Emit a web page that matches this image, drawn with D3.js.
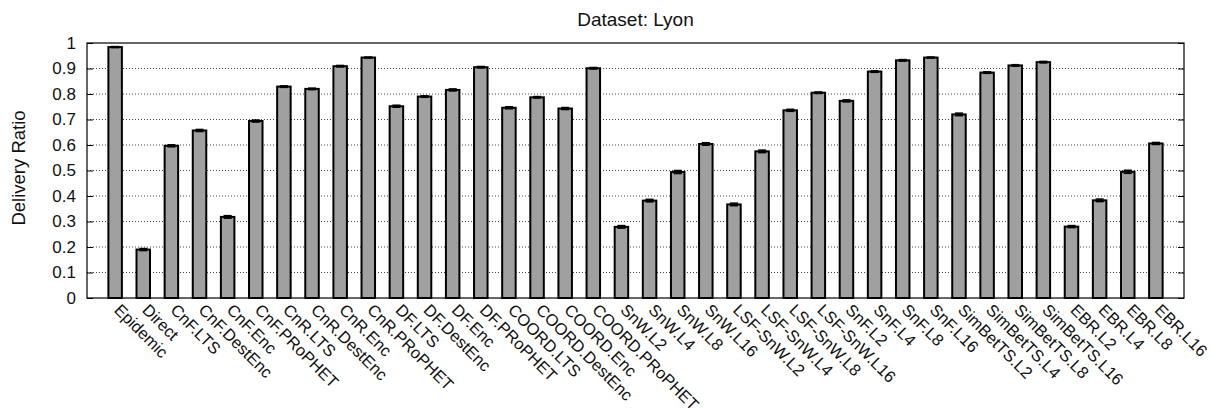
<!DOCTYPE html>
<html>
<head>
<meta charset="utf-8">
<script src="https://cdn.jsdelivr.net/npm/d3@7/dist/d3.min.js"></script>
<style>
  html, body { margin: 0; padding: 0; background: #fff; }
  svg { display: block; font-family: "Liberation Sans", Arial, Helvetica, sans-serif; }
</style>
</head>
<body>
<svg id="chart" width="1213" height="414"></svg>
<script>
// Routing schemes evaluated on the Lyon trace
const categories = [
  "Epidemic", "Direct",
  "CnF.LTS", "CnF.DestEnc", "CnF.Enc", "CnF.PRoPHET",
  "CnR.LTS", "CnR.DestEnc", "CnR.Enc", "CnR.PRoPHET",
  "DF.LTS", "DF.DestEnc", "DF.Enc", "DF.PRoPHET",
  "COORD.LTS", "COORD.DestEnc", "COORD.Enc", "COORD.PRoPHET",
  "SnW.L2", "SnW.L4", "SnW.L8", "SnW.L16",
  "LSF-SnW.L2", "LSF-SnW.L4", "LSF-SnW.L8", "LSF-SnW.L16",
  "SnF.L2", "SnF.L4", "SnF.L8", "SnF.L16",
  "SimBetTS.L2", "SimBetTS.L4", "SimBetTS.L8", "SimBetTS.L16",
  "EBR.L2", "EBR.L4", "EBR.L8", "EBR.L16"
];

// Mean delivery ratio per scheme
const deliveryRatio = [
  0.984, 0.190,
  0.597, 0.657, 0.318, 0.694,
  0.829, 0.820, 0.909, 0.943,
  0.752, 0.790, 0.816, 0.905,
  0.746, 0.787, 0.743, 0.901,
  0.279, 0.382, 0.494, 0.604,
  0.367, 0.575, 0.736, 0.805,
  0.773, 0.888, 0.932, 0.943,
  0.720, 0.884, 0.912, 0.925,
  0.280, 0.383, 0.495, 0.606
];

// Half-width of the confidence interval per scheme
const errors = [
  0.002, 0.004,
  0.004, 0.004, 0.005, 0.004,
  0.003, 0.003, 0.003, 0.002,
  0.004, 0.003, 0.004, 0.003,
  0.004, 0.003, 0.004, 0.003,
  0.005, 0.005, 0.006, 0.005,
  0.005, 0.005, 0.004, 0.003,
  0.004, 0.003, 0.003, 0.002,
  0.005, 0.003, 0.003, 0.003,
  0.004, 0.005, 0.006, 0.004
];

const yTicks = [0, 0.1, 0.2, 0.3, 0.4, 0.5, 0.6, 0.7, 0.8, 0.9, 1];

const svg = d3.select("#chart");
const plot = { left: 87, right: 1184, top: 43, bottom: 298 };

const x = d3.scaleLinear().domain([-1, categories.length]).range([plot.left, plot.right]);
const y = d3.scaleLinear().domain([0, 1]).range([plot.bottom, plot.top]);
const boxWidth = 0.48;
const barW = x(boxWidth) - x(0);

// Title
svg.append("text")
  .attr("x", (plot.left + plot.right) / 2)
  .attr("y", 26)
  .attr("text-anchor", "middle")
  .attr("font-size", 19)
  .attr("fill", "#111")
  .text("Dataset: Lyon");

// Horizontal dotted grid
svg.append("g")
  .selectAll("line")
  .data(yTicks.filter(t => t > 0 && t < 1))
  .join("line")
  .attr("x1", plot.left).attr("x2", plot.right)
  .attr("y1", d => y(d)).attr("y2", d => y(d))
  .attr("stroke", "#444")
  .attr("stroke-width", 1)
  .attr("stroke-dasharray", "1,2");

// Left axis with inward ticks
const yAxis = svg.append("g")
  .attr("transform", `translate(${plot.left},0)`)
  .call(d3.axisLeft(y).tickValues(yTicks).tickFormat(d3.format("~g"))
        .tickSizeInner(-6).tickSizeOuter(0).tickPadding(11));
yAxis.select(".domain").remove();
yAxis.selectAll("line").attr("stroke", "#000").attr("stroke-width", 1);
yAxis.selectAll("text").attr("font-size", 17).attr("fill", "#111")
  .attr("font-family", "Liberation Sans, Arial, sans-serif");

// Mirrored ticks on the right
svg.append("g")
  .attr("transform", `translate(${plot.right},0)`)
  .call(d3.axisRight(y).tickValues(yTicks).tickFormat("").tickSizeInner(-6).tickSizeOuter(0))
  .call(g => g.select(".domain").remove())
  .selectAll("line").attr("stroke", "#000");

// Bars
svg.append("g")
  .selectAll("rect")
  .data(deliveryRatio)
  .join("rect")
  .attr("x", (d, i) => x(i) - barW / 2)
  .attr("y", d => y(d))
  .attr("width", barW)
  .attr("height", d => y(0) - y(d))
  .attr("fill", "#a0a0a0")
  .attr("stroke", "#000")
  .attr("stroke-width", 2);

// Error bars
const capW = barW * 0.6;
const eb = svg.append("g").attr("stroke", "#000").attr("stroke-width", 1.5);
deliveryRatio.forEach((v, i) => {
  const cx = x(i);
  const lo = y(v - errors[i]), hi = y(v + errors[i]);
  eb.append("line").attr("x1", cx).attr("x2", cx).attr("y1", lo).attr("y2", hi);
  eb.append("line").attr("x1", cx - capW / 2).attr("x2", cx + capW / 2).attr("y1", lo).attr("y2", lo);
  eb.append("line").attr("x1", cx - capW / 2).attr("x2", cx + capW / 2).attr("y1", hi).attr("y2", hi);
});

// Plot frame
svg.append("rect")
  .attr("x", plot.left).attr("y", plot.top)
  .attr("width", plot.right - plot.left)
  .attr("height", plot.bottom - plot.top)
  .attr("fill", "none")
  .attr("stroke", "#000")
  .attr("stroke-width", 1.2);

// Rotated category labels
svg.append("g")
  .selectAll("text")
  .data(categories)
  .join("text")
  .attr("transform", (d, i) => `translate(${x(i) - 2},${plot.bottom + 13}) rotate(45)`)
  .attr("text-anchor", "start")
  .attr("font-size", 16.5)
  .attr("fill", "#111")
  .text(d => d);

// Y axis title
svg.append("text")
  .attr("transform", `translate(25,168) rotate(-90)`)
  .attr("text-anchor", "middle")
  .attr("font-size", 18.5)
  .attr("fill", "#111")
  .text("Delivery Ratio");
</script>
</body>
</html>
